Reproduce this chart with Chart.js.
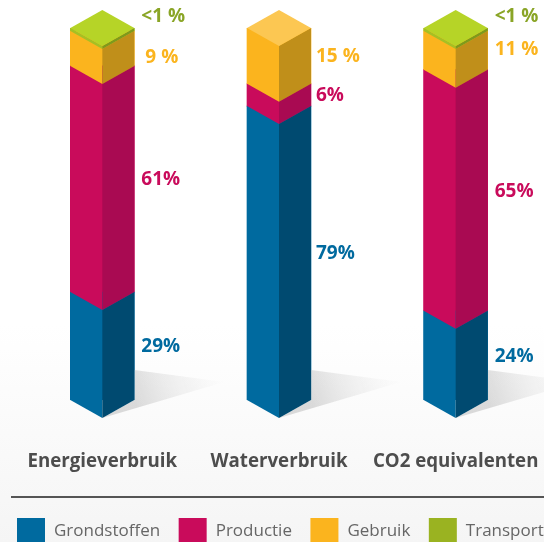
<!DOCTYPE html>
<html>
<head>
<meta charset="utf-8">
<script src="https://cdn.jsdelivr.net/npm/chart.js@4"></script>
<style>
  html, body { margin: 0; padding: 0; overflow: hidden; }
  body { width: 544px; height: 542px; background: linear-gradient(#ffffff 0%, #ffffff 60%, #f5f5f5 100%); }
  canvas { display: block; }
</style>
</head>
<body>
<canvas id="myChart" width="544" height="542"></canvas>
<script>
const categories = ['Energieverbruik', 'Waterverbruik', 'CO2 equivalenten'];
const seriesNames = ['Grondstoffen', 'Productie', 'Gebruik', 'Transport'];

const grondstoffen = [29, 79, 24];
const productie = [60.8, 6, 64.8];
const gebruik = [9.4, 15, 10.4];
const transport = [0.8, 0, 0.8];

const grondstoffenLabels = ['29%', '79%', '24%'];
const productieLabels = ['61%', '6%', '65%'];
const gebruikLabels = ['9 %', '15 %', '11 %'];
const transportLabels = ['<1 %', '', '<1 %'];

const seriesValues = [grondstoffen, productie, gebruik, transport];
const seriesLabels = [grondstoffenLabels, productieLabels, gebruikLabels, transportLabels];

const frontColors = ['#006a9f', '#c90b5b', '#fbb41e', '#a5c024'];
const sideColors = ['#004a70', '#a90a52', '#c08f1a', '#7e9a1c'];
const topColors = ['#2a86b5', '#d83c7c', '#fcc752', '#b6d427'];
const legendColors = ['#006a9f', '#c90b5b', '#fbb41e', '#9ab321'];
const labelColors = ['#006a9f', '#c90b5b', '#fbb41e', '#8aa526'];

const FONT = '"Open Sans", sans-serif';
const DEPTH = 18; // how far the isometric corner drops below the bar edge

// Draws the bars as 3D columns, using the positions Chart.js computed
const columnsPlugin = {
    id: 'columnsPlugin',
    afterDatasetsDraw: (chart) => {
        const ctx = chart.ctx;
        const metas = chart.data.datasets.map((d, i) => chart.getDatasetMeta(i));

        categories.forEach((cat, c) => {
            const first = metas[0].data[c];
            const half = first.width / 2;
            const cx = first.x;
            const floor = first.base;

            // shadow on the floor
            const grad = ctx.createLinearGradient(cx + half, floor, cx + half + 90, floor - 30);
            grad.addColorStop(0, 'rgba(190,190,190,0.55)');
            grad.addColorStop(1, 'rgba(230,230,230,0)');
            ctx.fillStyle = grad;
            ctx.beginPath();
            ctx.moveTo(cx, floor + DEPTH);
            ctx.lineTo(cx + half + 90, floor - 18);
            ctx.lineTo(cx + half, floor - 30);
            ctx.lineTo(cx + half, floor);
            ctx.closePath();
            ctx.fill();

            let topSeries = 0;
            metas.forEach((meta, s) => {
                if (seriesValues[s][c] <= 0) return;
                topSeries = s;
                const bar = meta.data[c];
                const y0 = bar.y;
                const y1 = bar.base;

                // left face
                ctx.fillStyle = frontColors[s];
                ctx.beginPath();
                ctx.moveTo(cx - half, y0);
                ctx.lineTo(cx, y0 + DEPTH);
                ctx.lineTo(cx, y1 + DEPTH);
                ctx.lineTo(cx - half, y1);
                ctx.closePath();
                ctx.fill();

                // right face
                ctx.fillStyle = sideColors[s];
                ctx.beginPath();
                ctx.moveTo(cx + half, y0);
                ctx.lineTo(cx, y0 + DEPTH);
                ctx.lineTo(cx, y1 + DEPTH);
                ctx.lineTo(cx + half, y1);
                ctx.closePath();
                ctx.fill();
            });

            // top of the column
            const top = metas[topSeries].data[c].y;
            ctx.fillStyle = topColors[topSeries];
            ctx.beginPath();
            ctx.moveTo(cx, top - DEPTH);
            ctx.lineTo(cx + half, top);
            ctx.lineTo(cx, top + DEPTH);
            ctx.lineTo(cx - half, top);
            ctx.closePath();
            ctx.fill();
        });
    }
};

// Percentage next to each segment
const labelShiftY = [[0, 0, 0], [0, 0, 0], [8, 0, -2], [0, 0, 0]];
const labelShiftX = [[0, -2, 0], [0, -2, 0], [4, -2, 0], [0, 0, 0]];
const valueLabelsPlugin = {
    id: 'valueLabelsPlugin',
    afterDatasetsDraw: (chart) => {
        const ctx = chart.ctx;
        ctx.font = 'bold 19px ' + FONT;
        ctx.textBaseline = 'middle';
        ctx.textAlign = 'left';
        seriesLabels.forEach((labels, s) => {
            const meta = chart.getDatasetMeta(s);
            ctx.fillStyle = labelColors[s];
            labels.forEach((txt, c) => {
                if (!txt) return;
                const bar = meta.data[c];
                // the transport segment is thin, its label sits above the column edge
                const y = s === 3 ? bar.y - 11 : (bar.y + bar.base) / 2 + labelShiftY[s][c] + 1;
                ctx.fillText(txt, bar.x + bar.width / 2 + 7 + labelShiftX[s][c], y);
            });
        });
    }
};

// Rule and legend under the chart
const legendPlugin = {
    id: 'legendPlugin',
    afterDraw: (chart) => {
        const ctx = chart.ctx;
        ctx.strokeStyle = '#555555';
        ctx.lineWidth = 2;
        ctx.beginPath();
        ctx.moveTo(11, 497);
        ctx.lineTo(544, 497);
        ctx.stroke();

        ctx.font = '17px ' + FONT;
        ctx.textBaseline = 'middle';
        ctx.textAlign = 'left';
        let x = 17;
        seriesNames.forEach((name, i) => {
            ctx.fillStyle = legendColors[i];
            ctx.fillRect(x, 518, 28, 24);
            ctx.fillStyle = '#666666';
            ctx.fillText(name, x + 37, 531);
            x += 37 + ctx.measureText(name).width + 18.5;
        });
    }
};

const datasets = seriesNames.map((name, i) => ({
    label: name,
    data: seriesValues[i],
    backgroundColor: frontColors[i],
    barThickness: 64
}));

new Chart(document.getElementById('myChart').getContext('2d'), {
    type: 'bar',
    data: { labels: categories, datasets: datasets },
    plugins: [columnsPlugin, valueLabelsPlugin, legendPlugin],
    options: {
        responsive: false,
        animation: false,
        layout: { padding: { left: 14, right: -1.5, top: 28, bottom: 0 } },
        plugins: { legend: { display: false }, tooltip: { enabled: false } },
        scales: {
            x: {
                stacked: true,
                grid: { display: false },
                border: { display: false },
                afterFit: (scale) => {
                    scale.height = 142;
                    // the long labels must not squeeze the columns together
                    scale.paddingLeft = 0;
                    scale.paddingRight = 0;
                },
                ticks: {
                    color: '#4d4d4d',
                    padding: 42,
                    maxRotation: 0,
                    autoSkip: false,
                    font: { family: FONT, size: 18.7, weight: 'bold' }
                }
            },
            y: { stacked: true, display: false, min: 0, max: 100 }
        }
    }
});
</script>
</body>
</html>
